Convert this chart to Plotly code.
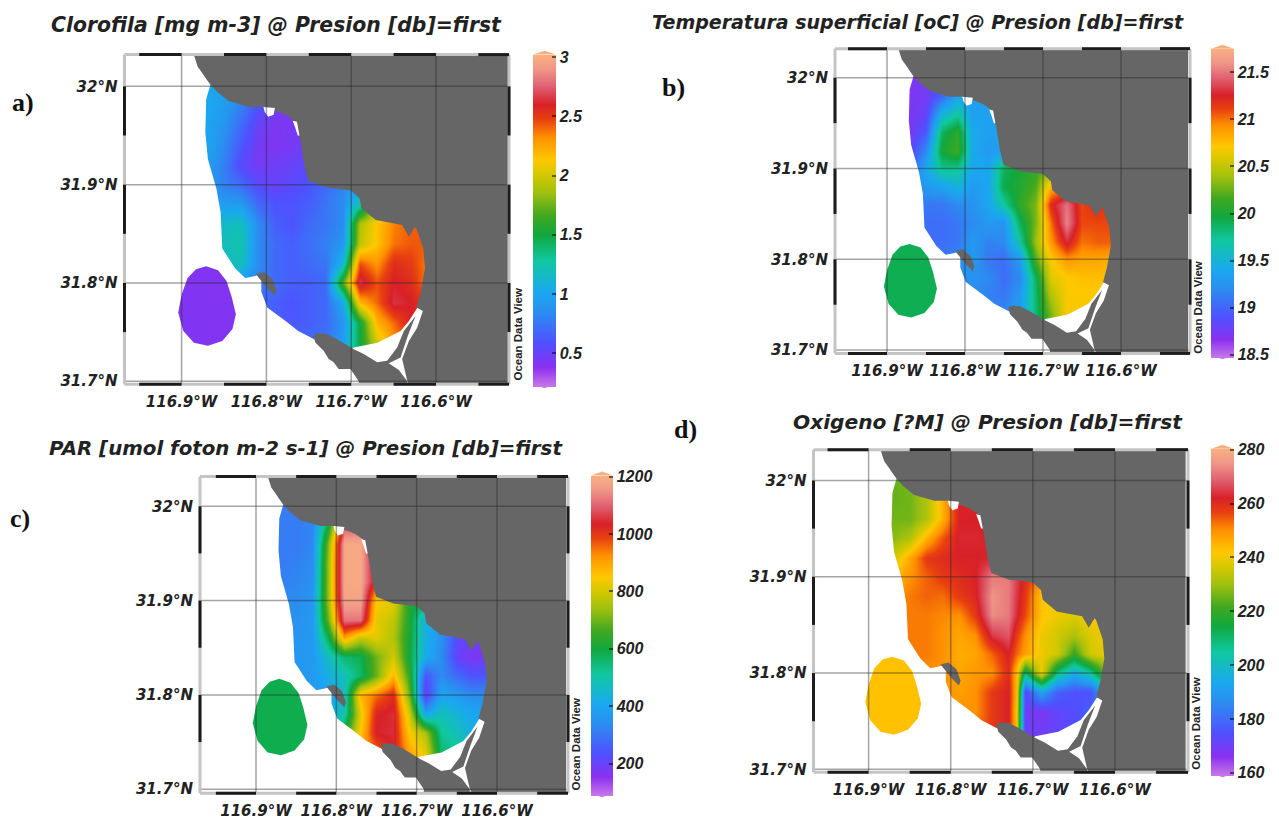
import plotly.graph_objects as go
from plotly.colors import sample_colorscale

W, H = 1279, 822

LON_GRID = [-116.87, -116.85, -116.83, -116.81, -116.79, -116.77, -116.75, -116.73,
            -116.71, -116.69, -116.67, -116.65, -116.63, -116.61, -116.59]
OXY_LON_GRID = [-116.87, -116.85, -116.83, -116.81, -116.79, -116.77, -116.75, -116.73, -116.72,
                -116.71, -116.69, -116.67, -116.65, -116.63, -116.61, -116.59]
LAT_GRID = [32.00, 31.98, 31.96, 31.94, 31.92, 31.90, 31.88, 31.86,
            31.84, 31.82, 31.80, 31.78, 31.76, 31.74, 31.72]

CHL_Z = [
 [1.00,0.98,0.90,0.70,0.58,0.50,0.50,0.55,0.60,0.70,0.80,0.90,0.90,0.90,0.90],
 [1.02,0.95,0.80,0.60,0.48,0.46,0.50,0.55,0.60,0.70,0.80,0.90,0.90,0.90,0.90],
 [1.00,0.90,0.70,0.50,0.43,0.44,0.50,0.55,0.60,0.70,0.80,0.90,0.90,0.90,0.90],
 [1.00,0.85,0.62,0.46,0.42,0.45,0.50,0.55,0.60,0.70,0.80,0.90,0.90,0.90,0.90],
 [0.95,0.80,0.55,0.46,0.48,0.50,0.55,0.60,0.70,0.80,0.85,0.90,0.90,0.90,0.90],
 [0.95,0.80,0.70,0.55,0.50,0.55,0.60,0.70,0.82,0.95,1.10,1.20,1.20,1.20,1.20],
 [1.00,0.95,0.95,0.70,0.60,0.60,0.65,0.75,0.85,1.25,1.80,2.05,2.25,2.30,2.30],
 [1.10,1.15,1.20,0.85,0.65,0.60,0.70,0.75,0.85,1.90,2.15,2.35,2.42,2.42,2.42],
 [1.10,1.20,1.25,0.85,0.70,0.65,0.72,0.80,0.90,1.95,2.15,2.38,2.43,2.43,2.43],
 [1.10,1.15,1.20,0.85,0.70,0.65,0.70,0.75,1.10,2.45,2.30,2.55,2.50,2.35,2.35],
 [1.20,1.10,0.90,0.80,0.70,0.65,0.65,0.70,1.70,2.68,2.45,2.60,2.55,2.35,2.35],
 [1.00,0.90,0.80,0.70,0.65,0.60,0.65,0.70,1.00,2.20,2.40,2.65,2.60,2.50,2.50],
 [0.80,0.80,0.80,0.70,0.65,0.62,0.65,0.70,0.90,1.50,2.20,2.40,2.60,2.55,2.55],
 [0.70,0.70,0.70,0.70,0.70,0.70,0.70,0.75,0.95,1.50,2.00,2.30,2.50,2.50,2.50],
 [0.70,0.70,0.70,0.70,0.70,0.70,0.70,0.75,0.95,1.50,2.00,2.30,2.50,2.50,2.50],
]
TEMP_Z = [
 [18.72,18.75,19.00,19.30,19.30,19.30,19.30,19.35,19.35,19.35,19.35,19.35,19.35,19.35,19.35],
 [18.72,18.75,19.00,19.40,19.30,19.30,19.30,19.35,19.35,19.35,19.35,19.35,19.35,19.35,19.35],
 [18.72,18.80,19.50,19.70,19.35,19.35,19.35,19.35,19.35,19.35,19.35,19.35,19.35,19.35,19.35],
 [18.75,18.95,19.90,20.10,19.40,19.35,19.35,19.40,19.60,19.60,19.60,19.60,19.60,19.60,19.60],
 [18.85,19.20,20.00,20.15,19.40,19.30,19.35,19.70,20.00,20.00,20.00,20.00,20.00,20.00,20.00],
 [19.00,19.40,19.75,19.75,19.40,19.40,19.90,20.00,20.10,20.30,20.30,20.30,20.30,20.30,20.30],
 [19.20,19.30,19.35,19.50,19.30,19.40,19.95,20.05,20.20,20.80,21.00,21.00,21.00,21.00,21.00],
 [19.20,19.10,19.10,19.20,19.25,19.40,19.70,20.10,20.30,21.20,21.50,21.10,21.20,21.10,21.10],
 [19.10,19.05,19.05,19.10,19.20,19.30,19.25,19.90,20.30,21.00,21.55,21.10,21.10,21.10,21.10],
 [19.05,19.05,19.05,19.10,19.30,19.15,19.20,19.70,20.40,20.90,21.30,21.00,21.05,21.05,21.05],
 [19.10,19.10,19.10,19.20,19.30,19.10,19.05,19.30,20.20,20.70,20.90,20.85,20.85,20.80,20.80],
 [19.20,19.20,19.20,19.20,19.25,19.20,19.05,19.20,19.90,20.60,20.70,20.75,20.75,20.75,20.75],
 [19.20,19.20,19.20,19.20,19.20,19.15,19.10,19.30,19.85,20.45,20.70,20.70,20.70,20.70,20.70],
 [19.20,19.20,19.20,19.20,19.20,19.20,19.20,19.30,19.85,20.30,20.70,20.70,20.70,20.70,20.70],
 [19.20,19.20,19.20,19.20,19.20,19.20,19.20,19.30,19.85,20.30,20.70,20.70,20.70,20.70,20.70],
]
PAR_Z = [
 [310,310,330,500,1000,1050,1000,900,800,700,600,500,400,400,400],
 [310,310,330,600,1080,1100,1000,900,800,700,600,500,400,400,400],
 [310,310,330,720,1190,1190,1000,900,800,700,600,500,400,400,400],
 [310,320,340,740,1190,1190,1000,900,800,700,600,500,400,400,400],
 [320,330,350,740,1190,1190,1000,900,800,700,600,500,400,400,400],
 [340,340,360,740,1180,1180,850,820,620,590,500,450,400,400,400],
 [350,350,370,700,1120,1120,820,780,620,430,350,300,250,250,250],
 [360,360,370,580,900,780,820,760,610,430,350,220,200,190,190],
 [360,360,370,470,560,580,700,800,600,420,340,200,170,190,190],
 [360,360,370,430,480,560,700,880,650,240,340,280,240,250,250],
 [370,370,370,380,470,880,950,1020,700,190,400,370,340,340,340],
 [380,380,380,400,500,820,1030,1050,800,400,480,440,400,400,400],
 [400,400,400,500,620,850,1040,1050,850,760,520,480,420,420,420],
 [500,500,500,600,700,900,950,1040,900,820,560,520,480,480,480],
 [500,500,500,600,700,900,950,1040,900,820,560,520,480,480,480],
]
OXY_Z = [
 [225,226,232,245,262,262,262,262,262,262,262,262,262,262,262,262],
 [225,226,232,245,262,262,262,262,262,262,262,262,262,262,262,262],
 [226,226,232,245,262,262,262,262,262,262,262,262,262,262,262,262],
 [228,232,245,255,263,263,262,262,262,262,262,262,262,262,262,262],
 [236,247,258,260,262,262,263,263,262,262,262,262,262,262,262,262],
 [244,250,254,258,260,262,272,272,266,260,250,245,240,240,240,240],
 [250,252,254,253,258,261,275,272,265,258,243,240,238,238,238,238],
 [252,252,252,251,250,258,274,272,264,256,243,240,238,241,241,241],
 [252,252,252,250,247,250,265,268,258,250,240,236,232,238,240,240],
 [252,252,252,250,246,247,254,262,254,248,240,236,220,236,240,240],
 [250,250,250,250,247,249,250,260,245,210,240,208,195,205,228,228],
 [250,250,250,250,248,250,258,262,245,172,192,178,175,175,198,198],
 [250,250,250,250,250,250,258,262,243,170,168,172,174,178,185,185],
 [250,250,250,250,250,252,258,262,243,170,170,172,174,178,185,185],
 [250,250,250,250,250,252,258,262,243,170,170,172,174,178,185,185],
]

CHL_OFFSHORE = 0.42
TEMP_OFFSHORE = 19.92
PAR_OFFSHORE = 585
OXY_OFFSHORE = 243

TITLES = ["Clorofila [mg m-3] @ Presion [db]=first",
          "Temperatura superficial [oC] @ Presion [db]=first",
          "PAR [umol foton m-2 s-1] @ Presion [db]=first",
          "Oxigeno [?M] @ Presion [db]=first"]
PANEL_TAGS = ["a)", "b)", "c)", "d)"]
LON_TICKS = [-116.9, -116.8, -116.7, -116.6]
LON_LABELS = ["116.9°W", "116.8°W", "116.7°W", "116.6°W"]
LAT_TICKS = [31.7, 31.8, 31.9, 32.0]
LAT_LABELS = ["31.7°N", "31.8°N", "31.9°N", "32°N"]
CHL_TICKS = [0.5, 1, 1.5, 2, 2.5, 3]
TEMP_TICKS = [18.5, 19, 19.5, 20, 20.5, 21, 21.5]
PAR_TICKS = [200, 400, 600, 800, 1000, 1200]
OXY_TICKS = [160, 180, 200, 220, 240, 260, 280]

LON_MIN, LON_MAX = -116.9675, -116.514
LAT_MIN, LAT_MAX = 31.697, 32.032

MASK_LON = [LON_MIN,-116.8855,-116.881,-116.866,-116.871,-116.872,-116.869,-116.859,-116.854,-116.852,
            -116.837,-116.825,-116.813,-116.806,-116.806,-116.799,-116.777,-116.7625,-116.742,-116.70,
            -116.697,-116.669,-116.6418,-116.632,-116.622,-116.615,-116.608,LON_MIN]
MASK_LAT = [LAT_MAX,LAT_MAX,32.020,32.002,31.987,31.953,31.926,31.896,31.872,31.835,
            31.815,31.805,31.807,31.81,31.791,31.775,31.761,31.751,31.742,31.732,
            31.7343,31.739,31.7512,31.7613,31.7747,31.7747,LAT_MIN,LAT_MIN]

LAND_LON = [-116.8855,-116.881,-116.866,-116.859,-116.8445,-116.820,-116.801,-116.777,-116.767,-116.760,
            -116.755,-116.7505,-116.729,-116.700,-116.690,-116.688,-116.671,-116.640,-116.632,-116.625,
            -116.623,-116.615,-116.613,-116.618,-116.623,-116.6155,-116.6222,-116.632,-116.6399,-116.634,
            -116.632,LON_MAX,LON_MAX]
LAND_LAT = [LAT_MAX,32.020,32.002,31.995,31.985,31.979,31.979,31.971,31.965,31.946,
            31.919,31.904,31.897,31.894,31.886,31.876,31.864,31.859,31.847,31.857,
            31.855,31.835,31.815,31.791,31.775,31.7714,31.7545,31.741,31.7225,31.7007,
            LAT_MIN,LAT_MIN,LAT_MAX]

SPIT_LON = [-116.7443,-116.7423,-116.7305,-116.7167,-116.697,-116.6852,-116.6694,-116.6576,-116.6458,-116.6379,
            -116.6241,-116.6332,-116.6418,-116.6557,-116.6438,-116.6339,-116.6339,-116.6911,-116.6911,-116.7009,
            -116.7148,-116.7207,-116.7266,-116.7325,-116.7423]
SPIT_LAT = [31.7462,31.7485,31.7485,31.7428,31.7326,31.7276,31.7192,31.7209,31.7343,31.7512,
            31.7664,31.7462,31.7242,31.7182,31.7114,31.70,LAT_MIN,LAT_MIN,31.70,31.7124,
            31.7124,31.7192,31.7226,31.731,31.7394]

ISLAND_LON = [-116.8125,-116.803,-116.793,-116.788,-116.790,-116.7995,-116.806]
ISLAND_LAT = [31.809,31.811,31.804,31.792,31.787,31.795,31.802]

NOTCH_LON = [-116.8035,-116.790,-116.7915,-116.798,-116.802]
NOTCH_LAT = [31.979,31.978,31.971,31.969,31.974]
STREAK_LON = [-116.769,-116.764,-116.761,-116.763,-116.766]
STREAK_LAT = [31.965,31.964,31.950,31.950,31.958]

OFF_LON = [-116.871,-116.857,-116.847,-116.841,-116.836,-116.840,-116.852,-116.869,-116.8855,-116.898,
           -116.904,-116.900,-116.893,-116.883]
OFF_LAT = [31.817,31.813,31.802,31.786,31.768,31.753,31.741,31.736,31.739,31.751,
           31.770,31.788,31.805,31.814]

ODV_SCALE = [[0.0,"#c878e8"],[0.06,"#8a30f0"],[0.13,"#5050ff"],[0.23,"#2a90f0"],[0.285,"#1aa8f0"],
             [0.38,"#10c8a0"],[0.457,"#10a840"],[0.516,"#40a820"],[0.585,"#a0c010"],[0.635,"#d0c800"],
             [0.684,"#ffc800"],[0.752,"#ff9000"],[0.806,"#e84010"],[0.85,"#d82028"],[0.905,"#e06070"],
             [0.958,"#f09888"],[1.0,"#f8b080"]]

LAND_COLOR = "#666666"
FONT = "Liberation Sans"
WIDE_FONT = "DejaVu Sans"
INK = "#222222"

PANELS = [
 dict(z=CHL_Z, lon=LON_GRID, off=CHL_OFFSHORE, ticks=CHL_TICKS, zr=(0.22,3.02),
      lonpx=(181.6,436), latpx=(87,384), box=(124.5,509,55,387), bar=(533,556,55,387),
      title=(276,25), tag=(10,103), odv=(518,337), tsize=20.4),
 dict(z=TEMP_Z, lon=LON_GRID, off=TEMP_OFFSHORE, ticks=TEMP_TICKS, zr=(18.47,21.75),
      lonpx=(887,1121), latpx=(78.3,352.7), box=(835,1190,49,356), bar=(1211,1234,49,358),
      title=(918,22), tag=(660,88), odv=(1198,310), tsize=19),
 dict(z=PAR_Z, lon=LON_GRID, off=PAR_OFFSHORE, ticks=PAR_TICKS, zr=(88.5,1204),
      lonpx=(256,497), latpx=(510,795), box=(200,568,480,799), bar=(591,613,479,799),
      title=(306,452), tag=(8,522), odv=(576,750), tsize=19.8),
 dict(z=OXY_Z, lon=OXY_LON_GRID, off=OXY_OFFSHORE, ticks=OXY_TICKS, zr=(158.9,280.4),
      lonpx=(868.6,1115), latpx=(484,775), box=(813.5,1188,453,778), bar=(1211,1234,452,779),
      title=(988,425), tag=(672,433), odv=(1196,729), tsize=20.2),
]

fig = go.Figure()
shapes, annos = [], []

def fx(p): return p / W
def fy(p): return 1 - p / H

for i, p in enumerate(PANELS):
    n = "" if i == 0 else str(i + 1)
    xa, ya = "x" + n, "y" + n
    L, R, T, B = p["box"]
    lon_scale = (p["lonpx"][1] - p["lonpx"][0]) / 0.3
    lat_scale = (p["latpx"][1] - p["latpx"][0]) / 0.3
    x0 = -116.9 + (L - p["lonpx"][0]) / lon_scale
    x1 = -116.9 + (R - p["lonpx"][0]) / lon_scale
    y1 = 32.0 + (p["latpx"][0] - T) / lat_scale
    y0 = 32.0 - (B - p["latpx"][0]) / lat_scale
    def PX(v): return fx(L + (v - x0) * lon_scale)
    def PY(v): return fy(T + (y1 - v) * lat_scale)
    tick_font = dict(family=WIDE_FONT, size=15, color=INK, style="italic", weight="bold")
    fig.update_layout({
        "xaxis" + n: dict(domain=[fx(L), fx(R)], range=[x0, x1], anchor=ya, showgrid=False, zeroline=False,
                          tickvals=LON_TICKS, ticktext=LON_LABELS, tickfont=tick_font, ticks="",
                          ticklabelstandoff=7, showline=False, fixedrange=True),
        "yaxis" + n: dict(domain=[fy(B), fy(T)], range=[y0, y1], anchor=xa, showgrid=False, zeroline=False,
                          tickvals=LAT_TICKS, ticktext=LAT_LABELS, tickfont=tick_font, ticks="",
                          ticklabelstandoff=6, showline=False, fixedrange=True),
    })
    bL, bR, bT, bB = p["bar"]
    fig.add_trace(go.Heatmap(
        x=p["lon"], y=LAT_GRID, z=p["z"], zmin=p["zr"][0], zmax=p["zr"][1], colorscale=ODV_SCALE,
        zsmooth="best", xaxis=xa, yaxis=ya, hoverinfo="skip",
        colorbar=dict(x=fx(bL), xanchor="left", xpad=0, y=fy(bT), yanchor="top", ypad=0,
                      lenmode="pixels", len=bB - bT, thicknessmode="pixels", thickness=bR - bL,
                      outlinewidth=0, borderwidth=0, tickvals=p["ticks"],
                      ticktext=[str(t) for t in p["ticks"]], ticks="inside", ticklen=4,
                      tickcolor="rgba(0,0,0,0.55)", tickwidth=2,
                      tickfont=dict(family=FONT, size=16, color=INK, style="italic", weight="bold")),
    ))
    def poly(lons, lats, color):
        fig.add_trace(go.Scatter(x=lons, y=lats, mode="lines", fill="toself", fillcolor=color,
                                 line=dict(width=0, color=color), xaxis=xa, yaxis=ya,
                                 hoverinfo="skip", showlegend=False))
    poly(MASK_LON, MASK_LAT, "white")
    off_color = sample_colorscale(ODV_SCALE, (p["off"] - p["zr"][0]) / (p["zr"][1] - p["zr"][0]))[0]
    poly(OFF_LON, OFF_LAT, off_color)
    poly(LAND_LON, LAND_LAT, LAND_COLOR)
    poly(SPIT_LON, SPIT_LAT, LAND_COLOR)
    poly(ISLAND_LON, ISLAND_LAT, LAND_COLOR)
    poly(NOTCH_LON, NOTCH_LAT, "white")
    poly(STREAK_LON, STREAK_LAT, "white")

    grid = dict(color="rgba(40,40,40,0.42)", width=1.5)
    for v in LON_TICKS:
        shapes.append(dict(type="line", xref=xa, yref=ya, x0=v, x1=v, y0=y0, y1=y1, line=grid, layer="above"))
    for v in LAT_TICKS:
        shapes.append(dict(type="line", xref=xa, yref=ya, x0=x0, x1=x1, y0=v, y1=v, line=grid, layer="above"))
    frame = dict(color="#c4c4c4", width=3)
    for a, b, c, d in [(x0, x1, y0, y0), (x0, x1, y1, y1), (x0, x0, y0, y1), (x1, x1, y0, y1)]:
        shapes.append(dict(type="line", xref="paper", yref="paper", x0=PX(a), x1=PX(b), y0=PY(c), y1=PY(d),
                           line=frame, layer="above"))
    black = dict(color="#1c1c1c", width=3)
    for k in range(5):
        a = max(-116.95 + 0.1 * k, x0)
        b = min(-116.90 + 0.1 * k, x1)
        for yy in (y0, y1):
            shapes.append(dict(type="line", xref="paper", yref="paper", x0=PX(a), x1=PX(b), y0=PY(yy), y1=PY(yy),
                               line=black, layer="above"))
    for k in range(3):
        a, b = 31.75 + 0.1 * k, 31.80 + 0.1 * k
        for xx in (x0, x1):
            shapes.append(dict(type="line", xref="paper", yref="paper", x0=PX(xx), x1=PX(xx), y0=PY(a), y1=PY(b),
                               line=black, layer="above"))
    mid = (bL + bR) / 2
    shapes.append(dict(type="path", xref="paper", yref="paper", layer="above", line=dict(width=0),
                       fillcolor=ODV_SCALE[-1][1],
                       path=f"M{fx(bL)},{fy(bT)} L{fx(mid)},{fy(bT-4)} L{fx(bR)},{fy(bT)} Z"))
    shapes.append(dict(type="path", xref="paper", yref="paper", layer="above", line=dict(width=0),
                       fillcolor=ODV_SCALE[0][1],
                       path=f"M{fx(bL)},{fy(bB)} L{fx(mid)},{fy(bB+4)} L{fx(bR)},{fy(bB)} Z"))
    annos.append(dict(xref="paper", yref="paper", x=fx(p["title"][0]), y=fy(p["title"][1]), text=TITLES[i],
                      showarrow=False, xanchor="center", yanchor="middle",
                      font=dict(family=WIDE_FONT, size=p["tsize"], color=INK, style="italic", weight="bold")))
    annos.append(dict(xref="paper", yref="paper", x=fx(p["tag"][0]), y=fy(p["tag"][1]), text=PANEL_TAGS[i],
                      showarrow=False, xanchor="left", yanchor="middle",
                      font=dict(family="Liberation Serif", size=26, color="#111111", weight="bold")))
    annos.append(dict(xref="paper", yref="paper", x=fx(p["odv"][0]), y=fy(p["odv"][1]), text="Ocean Data View",
                      showarrow=False, textangle=-90, xanchor="center", yanchor="middle",
                      font=dict(family=FONT, size=11.5, color=INK, weight="bold")))

fig.update_layout(width=W, height=H, margin=dict(l=0, r=0, t=0, b=0), paper_bgcolor="white",
                  plot_bgcolor="white", showlegend=False, shapes=shapes, annotations=annos)
fig.write_html("out.html", config={"displayModeBar": False},
               post_script="document.body.style.margin='0';document.body.style.overflow='hidden';")
